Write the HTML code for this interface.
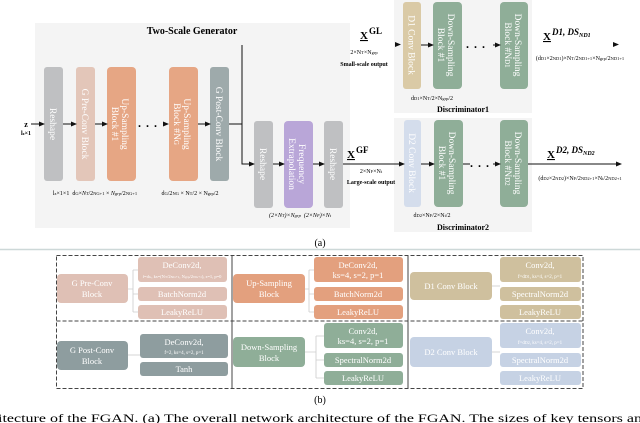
<!DOCTYPE html>
<html><head><meta charset="utf-8"><style>
html,body{margin:0;padding:0;background:#fff;}
svg{display:block;font-family:"Liberation Serif",serif;}
</style></head><body>
<svg width="640" height="423" viewBox="0 0 640 423" xmlns="http://www.w3.org/2000/svg">
<defs><marker id="ah" markerWidth="6" markerHeight="6" refX="5" refY="3" orient="auto" markerUnits="userSpaceOnUse"><path d="M0,0.5 L6,3 L0,5.5z" fill="#111"/></marker></defs>
<rect x="35" y="23" width="315" height="205" fill="#f4f4f4"/>
<rect x="394" y="0" width="138" height="113" fill="#f4f4f4"/>
<rect x="394" y="118" width="138" height="114" fill="#f4f4f4"/>
<text x="192" y="34" font-size="10" font-weight="bold" text-anchor="middle">Two-Scale Generator</text>
<g font-size="9.5" fill="#fff" text-anchor="middle">
<rect x="44" y="67" width="19" height="114" rx="3" fill="#bfc0c2"/>
<text transform="translate(50,124) rotate(90)">Reshape</text>
<rect x="76" y="67" width="19" height="114" rx="3" fill="#e3c6b9"/>
<text transform="translate(82,124) rotate(90)">G Pre-Conv Block</text>
<rect x="107" y="67" width="29" height="114" rx="4" fill="#e6a684"/>
<text transform="translate(122,124) rotate(90)">Up-Sampling</text>
<text transform="translate(112,124) rotate(90)">Block #1</text>
<rect x="169" y="67" width="29" height="114" rx="4" fill="#e6a684"/>
<text transform="translate(184,124) rotate(90)">Up-Sampling</text>
<text transform="translate(174,124) rotate(90)">Block #N<tspan font-size="7">G</tspan></text>
<rect x="210" y="67" width="19" height="114" rx="3" fill="#9eaaab"/>
<text transform="translate(216,124) rotate(90)">G Post-Conv Block</text>
<rect x="254" y="121" width="19" height="87" rx="3" fill="#bfc0c2"/>
<text transform="translate(260,164) rotate(90)">Reshape</text>
<rect x="284" y="121" width="29" height="87" rx="4" fill="#b9a6d8"/>
<text transform="translate(299,164) rotate(90)">Frequency</text>
<text transform="translate(289,164) rotate(90)">Extrapolation</text>
<rect x="324" y="121" width="19" height="87" rx="3" fill="#bfc0c2"/>
<text transform="translate(330,164) rotate(90)">Reshape</text>
<rect x="403" y="2" width="18" height="87" rx="3" fill="#dacaa6"/>
<text transform="translate(408.5,45) rotate(90)">D1 Conv Block</text>
<rect x="433" y="2" width="29" height="87" rx="4" fill="#8fae98"/>
<text transform="translate(448,45) rotate(90)">Down-Sampling</text>
<text transform="translate(438,45) rotate(90)">Block #1</text>
<rect x="500" y="2" width="28" height="87" rx="4" fill="#8fae98"/>
<text transform="translate(515,45) rotate(90)">Down-Sampling</text>
<text transform="translate(505,45) rotate(90)">Block #N<tspan font-size="7">D1</tspan></text>
<rect x="404" y="120" width="17" height="87" rx="3" fill="#d4ddec"/>
<text transform="translate(409,163) rotate(90)">D2 Conv Block</text>
<rect x="434" y="120" width="29" height="87" rx="4" fill="#8fae98"/>
<text transform="translate(449,163) rotate(90)">Down-Sampling</text>
<text transform="translate(439,163) rotate(90)">Block #1</text>
<rect x="500" y="120" width="28" height="87" rx="4" fill="#8fae98"/>
<text transform="translate(515,163) rotate(90)">Down-Sampling</text>
<text transform="translate(505,163) rotate(90)">Block #N<tspan font-size="7">D2</tspan></text>
</g>
<g stroke="#111" stroke-width="1" fill="none">
<line x1="31" y1="124" x2="44" y2="124" marker-end="url(#ah)"/>
<line x1="63" y1="124" x2="76" y2="124" marker-end="url(#ah)"/>
<line x1="95" y1="124" x2="107" y2="124" marker-end="url(#ah)"/>
<line x1="198" y1="124" x2="210" y2="124" marker-end="url(#ah)"/>
<polyline points="229,124 242,124 242,45"/>
<polyline points="242,124 242,164 254,164" marker-end="url(#ah)"/>
<line x1="273" y1="164" x2="284" y2="164" marker-end="url(#ah)"/>
<line x1="313" y1="164" x2="324" y2="164" marker-end="url(#ah)"/>
<line x1="343" y1="164" x2="404" y2="164" marker-end="url(#ah)"/>
<line x1="421" y1="164" x2="434" y2="164" marker-end="url(#ah)"/>
<line x1="528" y1="164" x2="621" y2="164" marker-end="url(#ah)"/>
<line x1="463" y1="164" x2="470" y2="164"/>
<line x1="493" y1="164" x2="500" y2="164" marker-end="url(#ah)"/>
<line x1="421" y1="45" x2="433" y2="45" marker-end="url(#ah)"/>
<line x1="493" y1="45" x2="500" y2="45" marker-end="url(#ah)"/>
</g>
<path d="M395,42 L401,44.5 L395,47z M613,42 L619,44.5 L613,47z M163,121.5 L169,124 L163,126.5z" fill="#111"/>
<text x="148" y="127" font-size="12" font-weight="bold" text-anchor="middle" letter-spacing="1">. . .</text>
<text x="476" y="48" font-size="12" font-weight="bold" text-anchor="middle" letter-spacing="1">. . .</text>
<text x="480" y="167" font-size="12" font-weight="bold" text-anchor="middle" letter-spacing="1">. . .</text>
<g font-size="6" text-anchor="middle">
<text x="26" y="127" font-size="8" font-weight="bold">z</text>
<text x="26" y="135" font-weight="bold">l<tspan font-size="4.5">z</tspan>×1</text>
<text x="95" y="195">l<tspan font-size="4.5">z</tspan>×1×1 &#160;d<tspan font-size="4.5">G</tspan>×<tspan font-style="italic">N<tspan font-size="4.5">T</tspan></tspan>/2<tspan font-size="4.5">NG+1</tspan> × <tspan font-style="italic">N<tspan font-size="4.5">grp</tspan></tspan>/2<tspan font-size="4.5">NG+1</tspan></text>
<text x="190" y="195">d<tspan font-size="4.5">G</tspan>/2<tspan font-size="4.5">NG</tspan> × N<tspan font-size="4.5">T</tspan>/2 × N<tspan font-size="4.5">grp</tspan>/2</text>
<text x="300" y="217" font-style="italic">(2×N<tspan font-size="4.5">T</tspan>)×N<tspan font-size="4.5">grp</tspan> &#160;(2×N<tspan font-size="4.5">F</tspan>)×N<tspan font-size="4.5">t</tspan></text>
<text x="364" y="54">2×N<tspan font-size="4.5">T</tspan>×N<tspan font-size="4.5">grp</tspan></text>
<text x="364" y="66" font-weight="bold">Small-scale output</text>
<text x="371" y="173">2×N<tspan font-size="4.5">F</tspan>×N<tspan font-size="4.5">t</tspan></text>
<text x="371" y="184" font-weight="bold">Large-scale output</text>
<text x="432" y="100">d<tspan font-size="4.5">D1</tspan>×N<tspan font-size="4.5">T</tspan>/2×N<tspan font-size="4.5">grp</tspan>/2</text>
<text x="432" y="217">d<tspan font-size="4.5">D2</tspan>×N<tspan font-size="4.5">F</tspan>/2×N<tspan font-size="4.5">t</tspan>/2</text>
<text x="580" y="60">(d<tspan font-size="4.5">D1</tspan>×2<tspan font-size="4.5">ND1</tspan>)×N<tspan font-size="4.5">T</tspan>/2<tspan font-size="4.5">ND1+1</tspan>×N<tspan font-size="4.5">grp</tspan>/2<tspan font-size="4.5">ND1+1</tspan></text>
<text x="580" y="180">(d<tspan font-size="4.5">D2</tspan>×2<tspan font-size="4.5">ND2</tspan>)×N<tspan font-size="4.5">F</tspan>/2<tspan font-size="4.5">ND2+1</tspan>×N<tspan font-size="4.5">t</tspan>/2<tspan font-size="4.5">ND2+1</tspan></text>
</g>
<g font-size="11" font-weight="bold">
<text x="360" y="39" text-decoration="underline">X</text><text x="369" y="34" font-size="9">GL</text>
<text x="347" y="158" text-decoration="underline">X</text><text x="356" y="153" font-size="9">GF</text>
<text x="543" y="40" text-decoration="underline">X</text><text x="552" y="35" font-size="9" font-style="italic">D1, DS<tspan font-size="6" dy="2">ND1</tspan></text>
<text x="547" y="158" text-decoration="underline">X</text><text x="556" y="153" font-size="9" font-style="italic">D2, DS<tspan font-size="6" dy="2">ND2</tspan></text>
</g>
<text x="463" y="112" font-size="8" font-weight="bold" text-anchor="middle">Discriminator1</text>
<text x="463" y="230" font-size="8" font-weight="bold" text-anchor="middle">Discriminator2</text>
<text x="320" y="246" font-size="10" text-anchor="middle">(a)</text>
<line x1="0" y1="249.5" x2="640" y2="249.5" stroke="#cdd8d8" stroke-width="1.5"/>
<rect x="56.5" y="255.5" width="526.5" height="133" fill="none" stroke="#444" stroke-width="1" stroke-dasharray="4,2"/>
<line x1="56.5" y1="321" x2="583" y2="321" stroke="#444" stroke-dasharray="4,2"/>
<line x1="232" y1="256" x2="232" y2="388" stroke="#444"/>
<line x1="408" y1="256" x2="408" y2="388" stroke="#444"/>
<g fill="#fff" text-anchor="middle" font-size="8.5">
<rect x="57" y="274" width="71" height="29" rx="4" fill="#dfc0b5"/><text x="92" y="286">G Pre-Conv</text><text x="92" y="297">Block</text>
<rect x="138" y="257" width="89" height="25" rx="3" fill="#dfc0b5"/><text x="182" y="268">DeConv2d,</text><text x="182" y="278" font-size="4.5">f=d<tspan font-size="3.5">G</tspan>, ks=(N<tspan font-size="3.5">T</tspan>/2<tspan font-size="3.5">NG+1</tspan>, N<tspan font-size="3.5">grp</tspan>/2<tspan font-size="3.5">NG+1</tspan>), s=1, p=0</text>
<rect x="138" y="287" width="89" height="14" rx="3" fill="#dfc0b5"/><text x="182" y="297">BatchNorm2d</text>
<rect x="138" y="305" width="89" height="14" rx="3" fill="#dfc0b5"/><text x="182" y="315">LeakyReLU</text>
<rect x="233" y="274" width="72" height="29" rx="4" fill="#e3a07e"/><text x="269" y="286">Up-Sampling</text><text x="269" y="297">Block</text>
<rect x="314" y="257" width="89" height="25" rx="3" fill="#e3a07e"/><text x="358" y="268">DeConv2d,</text><text x="358" y="278">ks=4, s=2, p=1</text>
<rect x="314" y="287" width="89" height="14" rx="3" fill="#e3a07e"/><text x="358" y="297">BatchNorm2d</text>
<rect x="314" y="305" width="89" height="14" rx="3" fill="#e3a07e"/><text x="358" y="315">LeakyReLU</text>
<rect x="410" y="272" width="82" height="28" rx="4" fill="#cfc09e"/><text x="451" y="289">D1 Conv Block</text>
<rect x="500" y="257" width="81" height="25" rx="3" fill="#cfc09e"/><text x="540" y="268">Conv2d,</text><text x="540" y="278" font-size="5">f=d<tspan font-size="4">D1</tspan>, ks=4, s=2, p=1</text>
<rect x="500" y="287" width="81" height="14" rx="3" fill="#cfc09e"/><text x="540" y="297">SpectralNorm2d</text>
<rect x="500" y="305" width="81" height="14" rx="3" fill="#cfc09e"/><text x="540" y="315">LeakyReLU</text>
<rect x="57" y="341" width="71" height="29" rx="4" fill="#8e9d9f"/><text x="92" y="353">G Post-Conv</text><text x="92" y="364">Block</text>
<rect x="140" y="334" width="88" height="24" rx="3" fill="#8e9d9f"/><text x="184" y="345">DeConv2d,</text><text x="184" y="354" font-size="5">f=2, ks=4, s=2, p=1</text>
<rect x="140" y="362" width="88" height="14" rx="3" fill="#8e9d9f"/><text x="184" y="372">Tanh</text>
<rect x="233" y="337" width="72" height="30" rx="4" fill="#8fae98"/><text x="269" y="350">Down-Sampling</text><text x="269" y="361">Block</text>
<rect x="324" y="323" width="79" height="25" rx="3" fill="#8fae98"/><text x="363" y="334">Conv2d,</text><text x="363" y="344">ks=4, s=2, p=1</text>
<rect x="324" y="353" width="79" height="14" rx="3" fill="#8fae98"/><text x="363" y="363">SpectralNorm2d</text>
<rect x="324" y="371" width="79" height="14" rx="3" fill="#8fae98"/><text x="363" y="381">LeakyReLU</text>
<rect x="410" y="337" width="82" height="30" rx="4" fill="#c6d2e4"/><text x="451" y="355">D2 Conv Block</text>
<rect x="500" y="323" width="81" height="25" rx="3" fill="#c6d2e4"/><text x="540" y="334">Conv2d,</text><text x="540" y="344" font-size="5">f=d<tspan font-size="4">D2</tspan>, ks=4, s=2, p=1</text>
<rect x="500" y="353" width="81" height="14" rx="3" fill="#c6d2e4"/><text x="540" y="363">SpectralNorm2d</text>
<rect x="500" y="371" width="81" height="14" rx="3" fill="#c6d2e4"/><text x="540" y="381">LeakyReLU</text>
</g>
<g stroke="#ccc" fill="none" stroke-width="0.8">
<path d="M128,289 H133 M133,270 V312 M133,270 H138 M133,294 H138 M133,312 H138"/>
<path d="M305,289 H309 M309,270 V312 M309,270 H314 M309,294 H314 M309,312 H314"/>
<path d="M492,286 H500"/>
<path d="M128,355 H140"/>
<path d="M305,352 H316 M316,336 V378 M316,336 H324 M316,360 H324 M316,378 H324"/>
<path d="M492,352 H500"/>
</g>
<text x="320" y="403" font-size="10" text-anchor="middle">(b)</text>
<text x="-2" y="422" font-size="11.5" textLength="652" lengthAdjust="spacingAndGlyphs">itecture of the FGAN. (a) The overall network architecture of the FGAN. The sizes of key tensors and</text>
</svg>
</body></html>
